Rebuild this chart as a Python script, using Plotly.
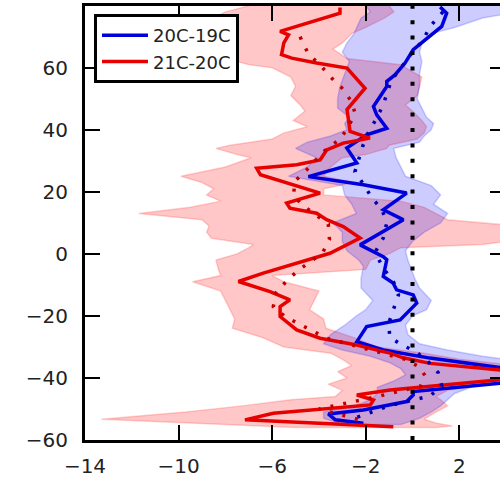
import plotly.graph_objects as go

# ---------------- data ----------------
# zero reference line
ref_x = 0

# 21C-20C solid profile (latitude, value)
red_y = [79.4, 77.6, 71.7, 70.6, 68.0, 64.2, 63.1, 61.5, 59.9, 53.4, 46.5, 39.5, 37.3, 35.7,
         33.5, 30.3, 28.7, 27.6, 25.5, 19.6, 16.4, 14.7, 13.1, 11.0, 8.8, 5.1, 0.2, -3.0,
         -6.2, -8.9, -12.2, -14.8, -17.0, -20.2, -24.5, -27.2, -29.4, -31.5, -32.0, -33.5,
         -35.3, -37.4, -39.0, -40.6, -42.8, -43.9, -45.5, -47.1, -48.7, -51.4, -53.5, -55.7]
red_x = [-3.1, -3.1, -5.66, -5.3, -5.5, -5.6, -5.16, -4.1, -2.8, -2.03, -2.8, -2.67, -1.82, -2.96,
         -3.67, -3.95, -4.95, -6.66, -6.5, -3.95, -5.38, -5.24, -4.1, -3.67, -2.96, -2.24, -3.53, -4.95,
         -6.38, -7.44, -6.09, -5.24, -5.66, -5.66, -4.95, -3.95, -2.38, -1.25, -0.96, -0.4,
         0.75, 3.74, 6.0, 3.74, 0.32, -0.96, -2.38, -1.67, -1.8, -5.95, -7.16, -0.82]

# 20C-19C solid profile
blue_y = [79.6, 77.6, 73.3, 68.5, 65.8, 61.5, 57.7, 55.6, 54.0, 47.5, 44.8, 40.5, 38.4, 34.1,
          29.3, 24.9, 22.3, 19.6, 14.2, 11.5, 11.0, 2.9, -0.9, -1.9, -6.2, -7.3, -9.4, -11.6,
          -13.2, -15.9, -21.3, -23.4, -28.3, -31.0, -33.6, -36.8, -39.0, -41.7, -44.4, -45.5,
          -47.6, -50.3, -51.6, -53.5, -54.6]
blue_x = [1.18, 1.46, 1.25, 0.46, 0.03, -0.32, -0.75, -1.1, -1.1, -1.67, -1.53, -1.1, -1.96, -2.81,
          -2.38, -4.45, -2.1, -0.25, -1.25, -0.53, -0.39, -2.24, -1.25, -1.1, -1.25, -1.25, -0.83, -0.68,
          0.03, 0.18, -0.53, -1.96, -2.38, -1.25, 0.75, 3.74, 6.0, 3.74, 0.03, 0.03,
          -0.25, -2.1, -3.6, -3.3, -2.1]

# 21C-20C dotted profile
red_dot_y = [70.0, 68.8, 64.5, 60.5, 57.2, 53.6, 49.0, 45.4, 40.9, 37.0, 33.0, 27.1, 23.5, 18.8,
             15.5, 12.5, 9.6, 4.7, 0.4, -5.3, -8.7, -12.5, -17.0, -20.2, -22.4, -24.7, -27.2,
             -31.0, -34.0, -36.5, -39.2, -42.6, -46.0, -50.0, -54.0]
red_dot_x = [-4.8, -4.74, -4.45, -3.9, -3.53, -3.03, -2.6, -2.46, -2.74, -3.1, -3.8, -4.52, -5.02, -5.09,
             -4.67, -4.1, -3.6, -3.55, -3.84, -4.88, -5.38, -5.83, -5.95, -5.45, -4.88, -4.31, -3.67,
             -1.8, -0.3, 0.3, 0.53, 0.35, -1.5, -4.0, -2.0]

# 20C-19C dotted profile
blue_dot_y = [78.0, 73.3, 68.9, 65.0, 61.0, 56.0, 51.5, 47.7, 43.4, 39.1, 34.7, 30.5, 26.5, 22.5,
              18.1, 14.2, 10.0, 5.1, 0.5, -4.6, -8.9, -13.2, -17.8, -22.0, -26.8, -29.4, -31.5,
              -35.0, -38.3, -42.6, -45.8, -49.0, -53.0]
blue_dot_x = [1.3, 0.75, 0.45, 0.0, -0.39, -0.9, -1.1, -1.27, -1.56, -1.89, -2.13, -2.3, -2.46, -2.1,
              -1.74, -1.3, -1.1, -1.25, -1.6, -1.25, -0.82, -0.6, -0.82, -1.0, -0.98, -0.45, 0.15,
              0.7, 1.1, 1.25, 0.75, -1.0, -2.5]

# 21C-20C spread (latitude, lower, upper)
red_band_y = [80, 78, 76, 73, 71, 68, 66, 63, 61, 60, 57, 54, 51, 48, 46, 43, 41, 39, 37, 35, 34,
              32, 31, 28, 25, 23, 21, 19, 17, 15, 13, 11, 9, 7, 5, 3, 2, 0, -2, -5, -7, -9, -12, -15,
              -18, -21, -24, -27, -30, -32, -34, -36, -38, -40, -42, -44, -46, -47, -49, -51,
              -53.3, -54.5, -55.5, -56]
red_band_lo = [-7.0, -8.0, -8.5, -8.8, -8.3, -8.6, -8.4, -8.0, -7.0, -6.0, -5.2, -5.0, -5.2, -4.8,
               -4.6, -5.1, -4.5, -5.5, -6.0, -7.8, -8.4, -7.5, -6.9, -8.0, -9.9, -9.0, -8.5, -8.8,
               -8.2, -9.5, -11.7, -9.0, -8.7, -8.8, -8.6, -6.8, -7.0, -7.5, -8.4, -8.3, -8.2, -9.4,
               -8.2, -8.0, -7.8, -7.6, -7.7, -6.4, -5.5, -3.5, -3.0, -2.6, -3.2, -2.8, -3.6,
               -3.0, -3.3, -5.2, -7.3, -9.7, -13.3, -9.5, -6.0, -5.0]
red_band_hi = [-1.0, -0.8, -1.2, -2.0, -2.6, -3.0, -3.4, -2.8, -0.5, -0.3, 0.4, 0.3, 0.2, -0.3,
               0.0, 0.4, 0.6, 0.5, 0.2, -1.0, -1.1, -2.0, -3.0, -3.5, -3.8, -2.5, -3.8, -3.8,
               -0.5, 0.5, 1.0, 1.5, 4.5, 5.5, 5.0, 3.0, -0.5, -1.0, -1.8, -2.0, -6.0, -5.5,
               -4.0, -4.2, -4.4, -3.8, -3.7, -2.5, -1.5, 0.5, 2.0, 4.5, 6.5, 6.5, 3.0,
               1.5, 1.0, 1.2, 1.5, 1.0, 0.5, 1.0, 1.7, 1.0]

# 20C-19C spread
blue_band_y = [80, 78, 76, 73, 71, 68, 65, 62, 58, 54, 50, 47, 44, 42, 40, 38, 36, 34, 31, 28,
               25, 22, 19, 16, 13, 10, 7, 4, 1, -2, -4, -8, -11, -15, -18, -20, -23, -26, -29,
               -31, -33, -35, -37, -39, -41, -43, -45, -47, -49, -51, -53, -55]
blue_band_lo = [-2.0, -1.8, -2.2, -2.4, -2.5, -2.8, -3.0, -2.7, -2.9, -3.1, -3.2, -3.2, -2.7, -2.9,
                -2.8, -3.5, -4.5, -5.0, -4.1, -4.5, -5.3, -3.0, -2.9, -2.6, -2.4, -3.4, -3.0,
                -3.0, -2.8, -2.3, -2.1, -2.2, -2.2, -1.7, -2.0, -2.4, -2.9, -3.5, -3.8, -3.0,
                -1.8, -1.0, -0.5, -0.3, -0.8, -1.5, -1.5, -1.8, -2.5, -3.8, -3.8, -3.0]
blue_band_hi = [5.0, 4.5, 3.0, 1.8, 0.8, 0.4, 0.3, 0.4, 0.3, 0.3, 0.2, 0.4, 0.6, 0.9, 0.8, 0.5,
                0.3, -0.8, -0.7, -0.5, -0.3, 0.8, 1.2, 0.9, 1.5, 1.2, 0.5, 0.0, -0.3, -0.2, -0.1,
                0.1, 0.3, 0.8, 0.6, 0.0, -0.3, -0.2, 0.3, 1.5, 3.0, 5.0, 6.5, 6.5, 4.0, 2.5,
                1.8, 1.5, 1.2, 0.8, 0.3, -0.5]

x_ticks = [-14, -10, -6, -2, 2]
y_ticks = [-60, -40, -20, 0, 20, 40, 60]
x_range = [-14, 3.74]
y_range = [-60, 79.9]

series_names = ["20C-19C", "21C-20C"]

# ---------------- figure ----------------
fig = go.Figure()


def band(y, lo, hi, fill, edge):
    return go.Scatter(x=list(lo) + list(hi)[::-1], y=list(y) + list(y)[::-1],
                      mode="lines", fill="toself", fillcolor=fill,
                      line=dict(color=edge, width=1.5), hoverinfo="skip", showlegend=False)


fig.add_trace(band(red_band_y, red_band_lo, red_band_hi, "rgba(255,0,0,0.22)", "rgba(255,0,0,0.18)"))
fig.add_trace(band(blue_band_y, blue_band_lo, blue_band_hi, "rgba(0,0,255,0.20)", "rgba(0,0,255,0.18)"))

fig.add_trace(go.Scatter(x=blue_x, y=blue_y, mode="lines", name=series_names[0],
                         line=dict(color="#0000dd", width=3.5)))
fig.add_trace(go.Scatter(x=red_x, y=red_y, mode="lines", name=series_names[1],
                         line=dict(color="#e60000", width=3.5)))
fig.add_trace(go.Scatter(x=red_dot_x, y=red_dot_y, mode="lines", showlegend=False,
                         line=dict(color="#c00000", width=3.5, dash="3px,10px")))
fig.add_trace(go.Scatter(x=blue_dot_x, y=blue_dot_y, mode="lines", showlegend=False,
                         line=dict(color="#0000b0", width=3.5, dash="3px,10px")))
fig.add_trace(go.Scatter(x=[], y=[], yaxis="y2", showlegend=False))

fig.add_vline(x=ref_x, line=dict(color="black", width=4, dash="4px,11.4px"))

tick_font = dict(family="DejaVu Sans", size=20, color="#222222")

fig.update_layout(
    width=500, height=478,
    margin=dict(l=85, r=0, t=6, b=38, pad=0),
    paper_bgcolor="white", plot_bgcolor="white",
    showlegend=True,
    legend=dict(x=0.0217, y=0.9816, xanchor="left", yanchor="top", itemwidth=46,
                bgcolor="white", bordercolor="black", borderwidth=3,
                font=dict(family="DejaVu Sans", size=18, color="#222222")),
    xaxis=dict(range=x_range, tickvals=x_ticks, ticks="inside", ticklen=15, tickwidth=2,
               tickcolor="black", showline=True, linecolor="black", linewidth=3,
               mirror="ticks", showgrid=False, zeroline=False, tickfont=tick_font,
               ticklabelstandoff=6),
    yaxis=dict(range=y_range, tickvals=y_ticks, ticks="inside", ticklen=15, tickwidth=2,
               tickcolor="black", showline=True, linecolor="black", linewidth=3,
               showgrid=False, zeroline=False, tickfont=tick_font, ticklabelstandoff=10),
    yaxis2=dict(range=y_range, tickvals=y_ticks, ticks="inside", ticklen=10, tickwidth=2,
                tickcolor="black", showline=False, showgrid=False, zeroline=False,
                showticklabels=False, overlaying="y", side="right", anchor="x"),
)

fig.write_html("out.html", config={"displayModeBar": False},
               post_script="document.body.style.margin='0px';")
